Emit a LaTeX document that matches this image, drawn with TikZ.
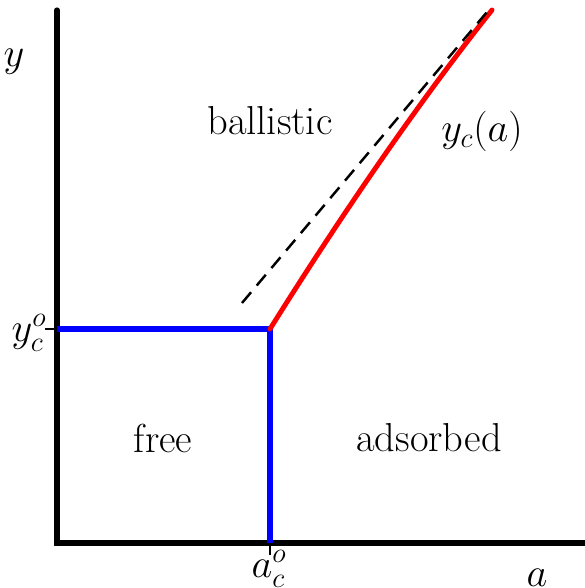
\documentclass[tikz,border=0pt]{standalone}
\usepackage{fix-cm}
\begin{document}
\begin{tikzpicture}[font=\fontsize{23}{27}\selectfont, axis/.style={line width=2.9pt, line cap=round}, bound/.style={blue, line width=3.4pt}]
  \useasboundingbox (0,0) rectangle (11.68,11.76);
  \coordinate (O) at (1.14,0.9);
  \coordinate (ytop) at (1.14,11.56);
  \coordinate (aend) at (12.2,0.9);
  \coordinate (C) at (5.4,5.18);
  \coordinate (Cy) at (1.14,5.18);
  \coordinate (Ca) at (5.4,0.9);
  \coordinate (R) at (9.84,11.56);
  \coordinate (d1) at (4.84,5.7);
  \coordinate (d2) at (9.74,11.52);

  \draw[axis] (ytop) -- (O) -- (aend);
  \draw[line width=1.2pt] (Cy) -- ++(-0.24,0);
  \draw[line width=1.2pt] (Ca) -- ++(0,-0.24);
  \draw[bound] (Cy) -- (C) -- (Ca);
  \draw[red, line width=2.8pt, line cap=round] (C) .. controls (6.6,7.1) and (8.2,9.5) .. (R);
  \draw[line width=1.4pt, dash pattern=on 8pt off 5pt] (d1) -- (d2);

  \node (ylab) at (0.58,5.1) {$y_c^o$};
  \node (alab) at (5.38,0.38) {$a_c^o$};
  \node (yax) at (0.28,10.52) {$y$};
  \node (aax) at (10.74,0.2) {$a$};
  \node (ball) at (5.4,9.34) {ballistic};
  \node (yca) at (9.64,9.14) {$y_c(a)$};
  \node (free) at (3.26,3.0) {free};
  \node (ads) at (8.58,3.0) {adsorbed};
\end{tikzpicture}
\end{document}
